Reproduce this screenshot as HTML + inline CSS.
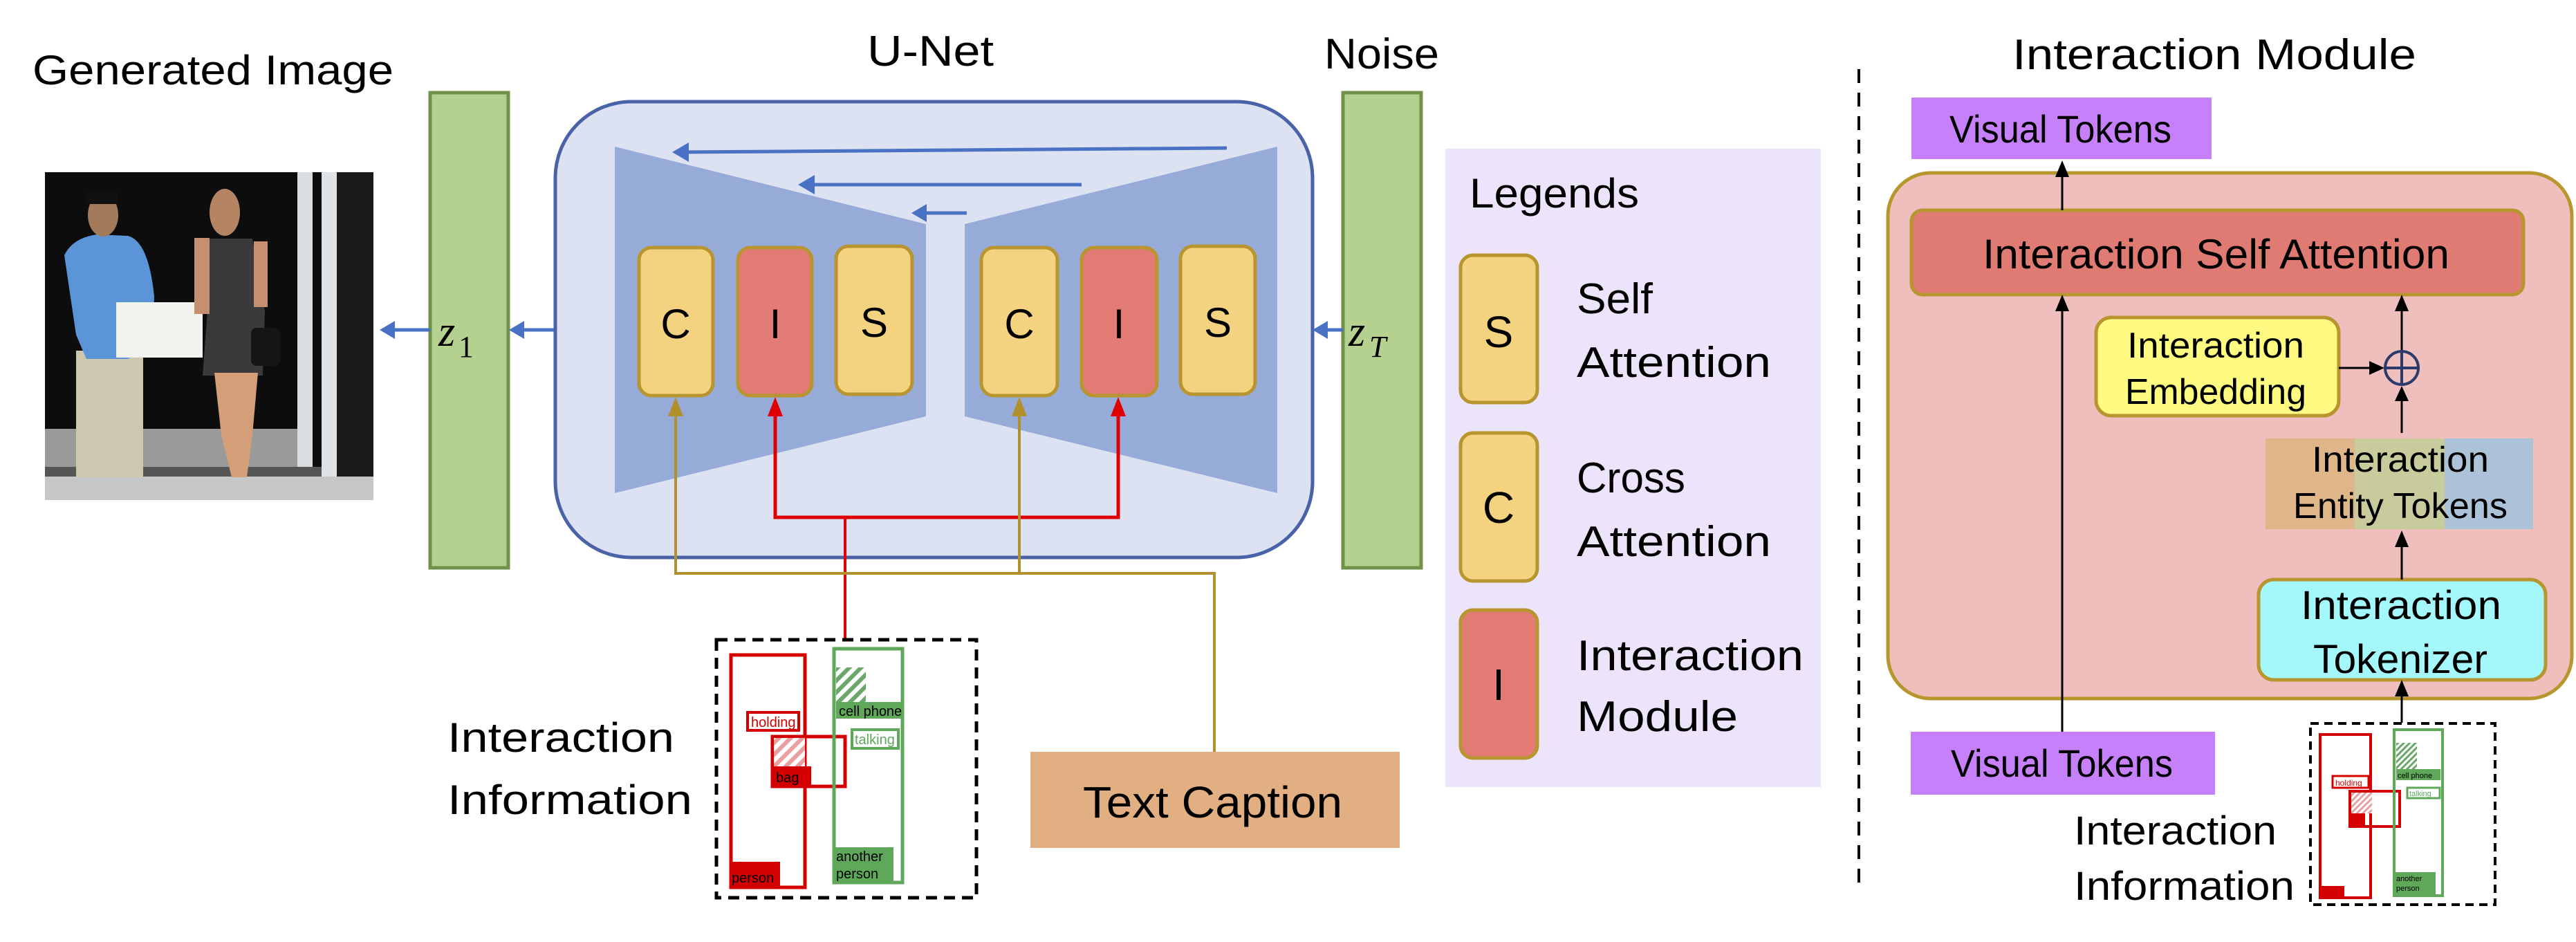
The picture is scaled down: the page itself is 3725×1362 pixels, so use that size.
<!DOCTYPE html>
<html><head><meta charset="utf-8"><style>html,body{margin:0;padding:0;background:#fff}svg{display:block}</style></head><body>
<svg width="3725" height="1362" viewBox="0 0 3725 1362" xmlns="http://www.w3.org/2000/svg" font-family="'Liberation Sans', sans-serif">
<defs>
<marker id="ab" markerWidth="10" markerHeight="10" refX="2" refY="5" orient="auto" markerUnits="userSpaceOnUse"><path d="M0,0 L0,0"/></marker>
<pattern id="hr" width="12" height="12" patternUnits="userSpaceOnUse" patternTransform="rotate(45)"><rect width="12" height="12" fill="#fff"/><rect width="6" height="12" fill="#e8a0a0"/></pattern>
<pattern id="hg" width="12" height="12" patternUnits="userSpaceOnUse" patternTransform="rotate(45)"><rect width="12" height="12" fill="#fff"/><rect width="6" height="12" fill="#6aa86a"/></pattern>
<pattern id="hr2" width="6" height="6" patternUnits="userSpaceOnUse" patternTransform="rotate(45)"><rect width="6" height="6" fill="#fff"/><rect width="3" height="6" fill="#e8a0a0"/></pattern>
<pattern id="hg2" width="6" height="6" patternUnits="userSpaceOnUse" patternTransform="rotate(45)"><rect width="6" height="6" fill="#fff"/><rect width="3" height="6" fill="#6aa86a"/></pattern>
</defs>

<!-- Titles -->
<text x="47" y="122" font-size="60" textLength="522" lengthAdjust="spacingAndGlyphs">Generated Image</text>
<text x="1254" y="95" font-size="62" textLength="183" lengthAdjust="spacingAndGlyphs">U-Net</text>
<text x="1915" y="99" font-size="62" textLength="166" lengthAdjust="spacingAndGlyphs">Noise</text>
<text x="2910" y="100" font-size="62" textLength="584" lengthAdjust="spacingAndGlyphs">Interaction Module</text>

<!-- Photo -->
<g transform="translate(65,249)">
<rect width="475" height="474" fill="#0d0d0d"/>
<rect x="0" y="371" width="365" height="55" fill="#9a9a9a"/>
<rect x="365" y="0" width="22" height="443" fill="#d8dde0"/>
<rect x="400" y="0" width="22" height="450" fill="#dfe3e6"/>
<rect x="422" y="0" width="53" height="440" fill="#1a1a1a"/>
<rect x="0" y="440" width="475" height="34" fill="#c4c6c8"/>
<rect x="0" y="426" width="400" height="14" fill="#555"/>
<!-- man -->
<rect x="45" y="258" width="97" height="183" fill="#cfc6b0"/>
<path d="M28,120 Q40,95 75,90 L120,92 Q150,100 158,180 L155,250 L120,270 L60,270 L45,235 Z" fill="#5b95d8"/>
<ellipse cx="84" cy="62" rx="22" ry="31" fill="#a37a5a"/>
<rect x="60" y="28" width="45" height="18" fill="#111"/>
<rect x="103" y="188" width="125" height="80" fill="#f2f2ee"/>
<!-- woman -->
<ellipse cx="260" cy="58" rx="22" ry="34" fill="#b58462"/>
<path d="M238,96 L300,96 L318,200 L315,294 L228,294 L235,200 Z" fill="#3a3a3c"/>
<path d="M245,290 L308,290 L300,380 L292,441 L270,441 L255,380 Z" fill="#d49e78"/>
<rect x="216" y="95" width="22" height="110" fill="#c69070"/>
<rect x="302" y="100" width="20" height="95" fill="#c69070"/>
<rect x="298" y="225" width="42" height="55" rx="8" fill="#151515"/>
</g>

<!-- z1 bar and arrows -->
<rect x="622" y="134" width="113" height="687" fill="#b5d18f" stroke="#70924a" stroke-width="5"/>
<text x="634" y="500" font-size="62" font-style="italic" font-family="'Liberation Serif', serif">z</text>
<text x="663" y="516" font-size="44" font-family="'Liberation Serif', serif">1</text>
<line x1="803" y1="477" x2="755" y2="477" stroke="#4a72c4" stroke-width="5"/>
<polygon points="736,477 758,464 758,490" fill="#4a72c4"/>
<line x1="622" y1="477" x2="568" y2="477" stroke="#4a72c4" stroke-width="5"/>
<polygon points="549,477 571,464 571,490" fill="#4a72c4"/>

<!-- U-Net container -->
<rect x="803" y="147" width="1095" height="659" rx="110" fill="#dde2f2" stroke="#4a63a8" stroke-width="5"/>
<polygon points="889,212 1339,324 1339,602 889,713" fill="#97abd9"/>
<polygon points="1395,324 1847,212 1847,713 1395,602" fill="#97abd9"/>
<line x1="1774" y1="214" x2="990" y2="220" stroke="#4a72c4" stroke-width="5"/>
<polygon points="972,220 996,206 996,234" fill="#4a72c4"/>
<line x1="1564" y1="267" x2="1172" y2="267" stroke="#4a72c4" stroke-width="5"/>
<polygon points="1154,267 1178,253 1178,281" fill="#4a72c4"/>
<line x1="1398" y1="308" x2="1336" y2="308" stroke="#4a72c4" stroke-width="5"/>
<polygon points="1318,308 1340,295 1340,321" fill="#4a72c4"/>

<!-- blocks -->
<g stroke="#b8952e" stroke-width="5">
<rect x="924" y="358" width="107" height="214" rx="18" fill="#f3d37f"/>
<rect x="1067" y="358" width="107" height="214" rx="18" fill="#e17b73"/>
<rect x="1209" y="356" width="110" height="214" rx="18" fill="#f3d37f"/>
<rect x="1419" y="358" width="110" height="214" rx="18" fill="#f3d37f"/>
<rect x="1564" y="358" width="109" height="214" rx="18" fill="#e17b73"/>
<rect x="1707" y="356" width="108" height="214" rx="18" fill="#f3d37f"/>
</g>
<g font-size="60" text-anchor="middle">
<text x="977" y="489">C</text><text x="1121" y="489">I</text><text x="1264" y="487">S</text>
<text x="1474" y="489">C</text><text x="1618" y="489">I</text><text x="1761" y="487">S</text>
</g>

<!-- connectors -->
<polyline points="1121,600 1121,748 1617,748 1617,600" fill="none" stroke="#e00000" stroke-width="5"/>
<line x1="1222" y1="748" x2="1222" y2="924" stroke="#e00000" stroke-width="4"/>
<polygon points="1121,574 1110,602 1132,602" fill="#e00000"/>
<polygon points="1617,574 1606,602 1628,602" fill="#e00000"/>
<polyline points="977,600 977,829 1756,829 1756,1087" fill="none" stroke="#b0912e" stroke-width="4"/>
<line x1="1474" y1="600" x2="1474" y2="829" stroke="#b0912e" stroke-width="4"/>
<polygon points="977,574 966,602 988,602" fill="#b0912e"/>
<polygon points="1474,574 1463,602 1485,602" fill="#b0912e"/>

<!-- zT bar -->
<rect x="1942" y="134" width="113" height="687" fill="#b5d18f" stroke="#70924a" stroke-width="5"/>
<text x="1950" y="500" font-size="62" font-style="italic" font-family="'Liberation Serif', serif">z</text>
<text x="1980" y="516" font-size="44" font-style="italic" font-family="'Liberation Serif', serif">T</text>
<line x1="1942" y1="477" x2="1916" y2="477" stroke="#4a72c4" stroke-width="5"/>
<polygon points="1898,477 1920,464 1920,490" fill="#4a72c4"/>

<!-- Interaction info (left) -->
<text x="647" y="1087" font-size="60" textLength="328" lengthAdjust="spacingAndGlyphs">Interaction</text>
<text x="647" y="1177" font-size="60" textLength="354" lengthAdjust="spacingAndGlyphs">Information</text>
<rect x="1036" y="925" width="376" height="373" fill="#fff" stroke="#000" stroke-width="5" stroke-dasharray="16,10"/>
<rect x="1057" y="947" width="107" height="336" fill="none" stroke="#d40000" stroke-width="5"/>
<rect x="1055" y="1246" width="73" height="38" fill="#d40000"/>
<text x="1058" y="1276" font-size="20">person</text>
<rect x="1081" y="1030" width="74" height="26" fill="#fff" stroke="#d40000" stroke-width="4"/>
<text x="1086" y="1051" font-size="20" fill="#d40000">holding</text>
<rect x="1117" y="1065" width="105" height="72" fill="none" stroke="#d40000" stroke-width="5"/>
<rect x="1119" y="1067" width="45" height="41" fill="url(#hr)"/>
<rect x="1115" y="1108" width="58" height="29" fill="#d40000"/>
<text x="1122" y="1131" font-size="20">bag</text>
<rect x="1206" y="938" width="99" height="338" fill="none" stroke="#5fa85a" stroke-width="5"/>
<rect x="1209" y="965" width="43" height="50" fill="url(#hg)"/>
<rect x="1209" y="1015" width="96" height="24" fill="#5fa85a"/>
<text x="1213" y="1035" font-size="20">cell phone</text>
<rect x="1232" y="1055" width="67" height="27" fill="#fff" stroke="#5fa85a" stroke-width="4"/>
<text x="1236" y="1076" font-size="20" fill="#5fa85a">talking</text>
<rect x="1205" y="1225" width="87" height="52" fill="#5fa85a"/>
<text x="1209" y="1245" font-size="20">another</text>
<text x="1209" y="1270" font-size="20">person</text>

<!-- Text caption -->
<rect x="1490" y="1087" width="534" height="139" fill="#e2af83"/>
<text x="1566" y="1182" font-size="64" textLength="375" lengthAdjust="spacingAndGlyphs">Text Caption</text>

<!-- Legend -->
<rect x="2090" y="215" width="543" height="923" fill="#ece4fb"/>
<text x="2125" y="300" font-size="60" textLength="245" lengthAdjust="spacingAndGlyphs">Legends</text>
<g stroke="#b8952e" stroke-width="5">
<rect x="2112" y="369" width="111" height="213" rx="18" fill="#f3d37f"/>
<rect x="2112" y="626" width="111" height="214" rx="18" fill="#f3d37f"/>
<rect x="2112" y="882" width="111" height="214" rx="18" fill="#e17b73"/>
</g>
<g font-size="64" text-anchor="middle"><text x="2167" y="502">S</text><text x="2167" y="756">C</text><text x="2167" y="1012">I</text></g>
<g font-size="62">
<text x="2280" y="453" textLength="110" lengthAdjust="spacingAndGlyphs">Self</text>
<text x="2280" y="545" textLength="281" lengthAdjust="spacingAndGlyphs">Attention</text>
<text x="2280" y="712" textLength="157" lengthAdjust="spacingAndGlyphs">Cross</text>
<text x="2280" y="804" textLength="281" lengthAdjust="spacingAndGlyphs">Attention</text>
<text x="2280" y="969" textLength="328" lengthAdjust="spacingAndGlyphs">Interaction</text>
<text x="2280" y="1057" textLength="233" lengthAdjust="spacingAndGlyphs">Module</text>
</g>

<!-- divider -->
<line x1="2688" y1="100" x2="2688" y2="1281" stroke="#000" stroke-width="4" stroke-dasharray="20,14"/>

<!-- Interaction module -->
<rect x="2764" y="141" width="434" height="89" fill="#c680f9"/>
<text x="2819" y="206" font-size="56" textLength="321" lengthAdjust="spacingAndGlyphs">Visual Tokens</text>
<rect x="2730" y="250" width="989" height="760" rx="62" fill="#eebfbd" stroke="#b8962e" stroke-width="5"/>
<rect x="2764" y="304" width="885" height="122" rx="16" fill="#e07b74" stroke="#b8952e" stroke-width="5"/>
<text x="2867" y="388" font-size="60" textLength="675" lengthAdjust="spacingAndGlyphs">Interaction Self Attention</text>
<rect x="3031" y="459" width="351" height="142" rx="22" fill="#fffb80" stroke="#b8952e" stroke-width="5"/>
<text x="3076" y="517" font-size="52" textLength="256" lengthAdjust="spacingAndGlyphs">Interaction</text>
<text x="3073" y="584" font-size="52" textLength="262" lengthAdjust="spacingAndGlyphs">Embedding</text>
<rect x="3276" y="634" width="130" height="131" fill="#deb68a"/>
<rect x="3405" y="634" width="130" height="131" fill="#c8cc9c"/>
<rect x="3535" y="634" width="128" height="131" fill="#abc2d8"/>
<text x="3343" y="682" font-size="52" textLength="256" lengthAdjust="spacingAndGlyphs">Interaction</text>
<text x="3316" y="749" font-size="52" textLength="310" lengthAdjust="spacingAndGlyphs">Entity Tokens</text>
<rect x="3266" y="838" width="415" height="145" rx="22" fill="#a4f7fb" stroke="#b8952e" stroke-width="5"/>
<text x="3327" y="895" font-size="58" textLength="290" lengthAdjust="spacingAndGlyphs">Interaction</text>
<text x="3345" y="973" font-size="58" textLength="252" lengthAdjust="spacingAndGlyphs">Tokenizer</text>
<rect x="2763" y="1058" width="440" height="91" fill="#c680f9"/>
<text x="2821" y="1123" font-size="56" textLength="321" lengthAdjust="spacingAndGlyphs">Visual Tokens</text>
<text x="2999" y="1221" font-size="58" textLength="293" lengthAdjust="spacingAndGlyphs">Interaction</text>
<text x="2999" y="1301" font-size="58" textLength="319" lengthAdjust="spacingAndGlyphs">Information</text>

<!-- arrows in module -->
<g stroke="#000" stroke-width="3" fill="none">
<line x1="2982" y1="1058" x2="2982" y2="445"/>
<line x1="2982" y1="304" x2="2982" y2="250"/>
<line x1="3473" y1="838" x2="3473" y2="785"/>
<line x1="3473" y1="626" x2="3473" y2="575"/>
<line x1="3473" y1="507" x2="3473" y2="445"/>
<line x1="3382" y1="532" x2="3430" y2="532"/>
<line x1="3473" y1="1045" x2="3473" y2="1002"/>
</g>
<g fill="#000">
<polygon points="2982,426 2972,450 2992,450"/>
<polygon points="2982,232 2972,256 2992,256"/>
<polygon points="3473,767 3463,791 3483,791"/>
<polygon points="3473,558 3463,580 3483,580"/>
<polygon points="3473,426 3463,450 3483,450"/>
<polygon points="3448,532 3426,522 3426,542"/>
<polygon points="3473,983 3463,1007 3483,1007"/>
</g>
<circle cx="3473" cy="532" r="24" fill="none" stroke="#2a3a6a" stroke-width="4"/>
<line x1="3449" y1="532" x2="3497" y2="532" stroke="#2a3a6a" stroke-width="4"/>
<line x1="3473" y1="508" x2="3473" y2="556" stroke="#2a3a6a" stroke-width="4"/>

<!-- small interaction info -->
<rect x="3341" y="1046" width="267" height="262" fill="#fff" stroke="#000" stroke-width="4" stroke-dasharray="12,8"/>
<rect x="3355" y="1062" width="73" height="236" fill="none" stroke="#d40000" stroke-width="4"/>
<rect x="3355" y="1281" width="35" height="17" fill="#d40000"/>
<rect x="3373" y="1122" width="52" height="17" fill="#fff" stroke="#d40000" stroke-width="3"/>
<text x="3377" y="1136" font-size="12" fill="#d40000">holding</text>
<rect x="3398" y="1144" width="72" height="51" fill="none" stroke="#d40000" stroke-width="4"/>
<rect x="3400" y="1146" width="30" height="30" fill="url(#hr2)"/>
<rect x="3398" y="1176" width="22" height="19" fill="#d40000"/>
<rect x="3462" y="1055" width="70" height="240" fill="none" stroke="#5fa85a" stroke-width="4"/>
<rect x="3465" y="1074" width="30" height="38" fill="url(#hg2)"/>
<rect x="3465" y="1112" width="64" height="16" fill="#5fa85a"/>
<text x="3467" y="1125" font-size="11">cell phone</text>
<rect x="3481" y="1139" width="47" height="15" fill="#fff" stroke="#5fa85a" stroke-width="3"/>
<text x="3484" y="1151" font-size="11" fill="#5fa85a">talking</text>
<rect x="3462" y="1261" width="60" height="34" fill="#5fa85a"/>
<text x="3465" y="1274" font-size="11">another</text>
<text x="3465" y="1288" font-size="11">person</text>
</svg>
</body></html>
